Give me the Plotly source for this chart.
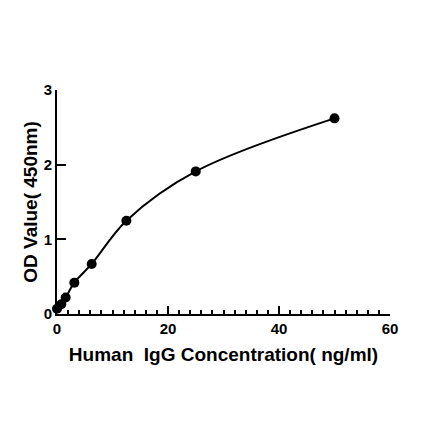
import plotly.graph_objects as go

# standard curve points
conc = [0, 0.78, 1.56, 3.125, 6.25, 12.5, 25, 50]
od = [0.07, 0.13, 0.22, 0.42, 0.67, 1.25, 1.91, 2.62]

x_ticks = [0, 20, 40, 60]
y_ticks = [0, 1, 2, 3]

fnt = "Liberation Sans, Arial, sans-serif"

fig = go.Figure()

# smooth fitted line through the standards
fig.add_trace(
    go.Scatter(
        x=conc,
        y=od,
        mode="lines",
        line=dict(color="black", width=2, shape="spline", smoothing=1.0),
        cliponaxis=False,
        hoverinfo="skip",
    )
)
fig.add_trace(
    go.Scatter(
        x=conc,
        y=od,
        mode="markers",
        marker=dict(color="black", size=10),
        cliponaxis=False,
    )
)

fig.update_layout(
    width=440,
    height=441,
    margin=dict(l=49, r=58, t=82, b=135),
    plot_bgcolor="white",
    paper_bgcolor="white",
    showlegend=False,
    font=dict(family=fnt, color="black"),
)

fig.update_xaxes(
    range=[0, 60],
    tickvals=x_ticks,
    ticktext=["<b>%d</b>" % v for v in x_ticks],
    tickangle=0,
    automargin=False,
    ticks="inside",
    ticklen=8,
    tickwidth=2,
    tickcolor="black",
    minor=dict(ticks="inside", dtick=2, ticklen=4, tickwidth=1.5, tickcolor="black"),
    showline=True,
    linecolor="black",
    linewidth=2,
    showgrid=False,
    zeroline=False,
    tickfont=dict(size=15, family=fnt),
    title=dict(
        text="<b>Human\u00a0\u00a0IgG Concentration(\u00a0ng/ml)</b>",
        font=dict(size=19, family=fnt),
        standoff=12,
    ),
)

fig.update_yaxes(
    range=[0, 3],
    tickvals=y_ticks,
    ticktext=["<b>%d</b>" % v for v in y_ticks],
    tickangle=0,
    automargin=False,
    ticks="inside",
    ticklen=9,
    tickwidth=2,
    tickcolor="black",
    showline=True,
    linecolor="black",
    linewidth=2,
    showgrid=False,
    zeroline=False,
    tickfont=dict(size=15, family=fnt),
    title=dict(
        text="<b>OD Value(\u00a0450nm)</b>",
        font=dict(size=19, family=fnt),
        standoff=1,
    ),
)

fig.write_html("out.html")
